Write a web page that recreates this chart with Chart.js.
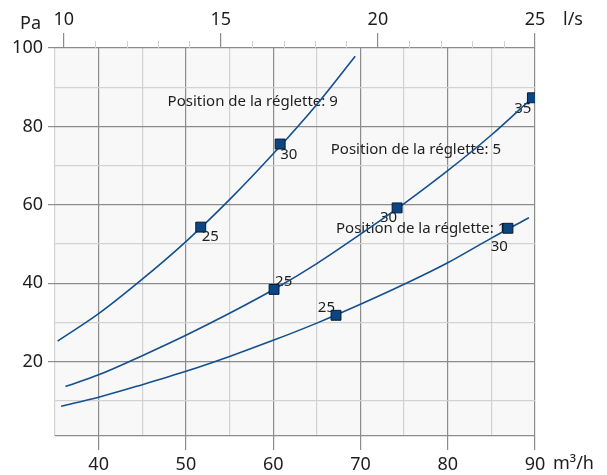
<!DOCTYPE html>
<html><head><meta charset="utf-8">
<script src="https://cdn.jsdelivr.net/npm/chart.js@4.4.1/dist/chart.umd.min.js"></script>
<style>html,body{margin:0;padding:0;background:#fff}#wrap{width:607px;height:475px}</style>
</head><body><div id="wrap"><canvas id="c" width="607" height="475"></canvas></div>
<script>
// ---- Data (flow in m³/h, pressure in Pa) ----
const curve9Flow = [35.3, 40, 45, 50, 55, 60, 65, 69.4];
const curve9Pa   = [25.2, 32.2, 41.0, 50.6, 61.3, 73.0, 85.6, 97.9];
const curve5Flow = [36.2, 40, 45, 50, 55, 60, 65, 70, 75, 80, 85, 89.7];
const curve5Pa   = [13.6, 16.6, 21.5, 26.7, 32.3, 38.3, 45.0, 52.5, 60.3, 68.7, 77.8, 87.3];
const curve1Flow = [35.7, 40, 45, 50, 55, 60, 65, 70, 75, 80, 85, 89.3];
const curve1Pa   = [8.6, 10.9, 14.1, 17.5, 21.3, 25.4, 29.8, 34.6, 39.7, 45.2, 51.5, 56.7];

const marker9Flow = [51.7, 60.8];
const marker9Pa   = [54.3, 75.5];
const marker9Text = ['25', '30'];
const marker5Flow = [60.1, 74.2, 89.7];
const marker5Pa   = [38.4, 59.2, 87.3];
const marker5Text = ['25', '30', '35'];
const marker1Flow = [67.2, 86.9];
const marker1Pa   = [31.8, 54.0];
const marker1Text = ['25', '30'];

const curveNames = ['Position de la réglette: 9', 'Position de la réglette: 5', 'Position de la réglette: 1'];

const xTickValues   = [35, 40, 45, 50, 55, 60, 65, 70, 75, 80, 85, 90];
const xTickLabels   = [40, 50, 60, 70, 80, 90];
const yTickValues   = [1, 10, 20, 30, 40, 50, 60, 70, 80, 90, 100];
const yTickLabels   = [20, 40, 60, 80, 100];
const topTickLabels = [10, 15, 20, 25];
const topMinorTicks = [10, 11, 12, 13, 14, 15, 16, 17, 18, 19, 20, 21, 22, 23, 24, 25];

// ---- Styling / placement (not data) ----
const FONT = '"Noto Sans", sans-serif';
const LINE = '#13508f';
const MFILL = '#0c4584';
const MAJOR = '#8c8c8c';
const MINOR = '#d2d2d2';
const TXT = '#1e1e1e';
// name label anchors (left, middle) in data coords
const namePlace = [[47.9, 86.3], [66.6, 74.0], [67.2, 54.0]];
// marker label offsets [dx, dy, align]
const lblOff9 = [[1, 10, 'left'], [0, 11, 'left']];
const lblOff5 = [[1, -8, 'left'], [0, 10, 'right'], [-1, 11, 'right']];
const lblOff1 = [[-1, -8, 'right'], [0, 18, 'right']];

const pts = (xs, ys) => xs.map((v, i) => ({x: v, y: ys[i]}));

const markerSets = [
  {flow: marker9Flow, pa: marker9Pa, text: marker9Text, off: lblOff9},
  {flow: marker5Flow, pa: marker5Pa, text: marker5Text, off: lblOff5},
  {flow: marker1Flow, pa: marker1Pa, text: marker1Text, off: lblOff1}
];

const markerDS = markerSets.map(m => ({
  data: pts(m.flow, m.pa), showLine: false, pointStyle: 'rect', pointRadius: 7,
  pointBackgroundColor: MFILL, pointBorderColor: '#0a1a30', pointBorderWidth: 1, order: 0
}));
const curveDS = [[curve9Flow, curve9Pa], [curve5Flow, curve5Pa], [curve1Flow, curve1Pa]].map(c => ({
  data: pts(c[0], c[1]), showLine: true, borderColor: LINE, borderWidth: 1.6, pointRadius: 0,
  cubicInterpolationMode: 'monotone', fill: false, order: 1
}));

const deco = {
  id: 'deco',
  beforeDraw(chart) {
    const {ctx, chartArea: a} = chart;
    ctx.save();
    ctx.fillStyle = '#f8f8f8';
    ctx.fillRect(a.left, a.top, a.right - a.left, a.bottom - a.top);
    ctx.restore();
  },
  beforeDatasetsDraw(chart) {
    const {ctx} = chart;
    const xs = chart.scales.x, ys = chart.scales.y;
    ctx.save();
    ctx.fillStyle = TXT;
    ctx.font = '15px ' + FONT;
    ctx.textBaseline = 'middle';
    ctx.textAlign = 'left';
    curveNames.forEach((n, i) => {
      ctx.fillText(n, xs.getPixelForValue(namePlace[i][0]), ys.getPixelForValue(namePlace[i][1]));
    });
    markerSets.forEach((m, di) => {
      const meta = chart.getDatasetMeta(di);
      meta.data.forEach((p, i) => {
        const o = m.off[i];
        ctx.textAlign = o[2];
        ctx.fillText(m.text[i], p.x + o[0], p.y + o[1]);
      });
    });
    ctx.restore();
  },
  afterDraw(chart) {
    const {ctx, chartArea: a} = chart;
    const x2 = chart.scales.x2;
    ctx.save();
    ctx.lineWidth = 1;
    ctx.strokeStyle = MINOR;
    topMinorTicks.forEach(v => {
      if (topTickLabels.includes(v)) return;
      const px = Math.round(x2.getPixelForValue(v)) + 0.5;
      ctx.beginPath(); ctx.moveTo(px, a.top - 7); ctx.lineTo(px, a.top); ctx.stroke();
    });
    ctx.fillStyle = TXT;
    ctx.font = '18px ' + FONT;
    ctx.textBaseline = 'alphabetic';
    ctx.textAlign = 'left';
    ctx.fillText('Pa', 20, 29);
    ctx.fillText('l/s', 563, 25);
    ctx.fillText('m³/h', 553, 469);
    ctx.restore();
  }
};

new Chart(document.getElementById('c'), {
  type: 'scatter',
  data: {datasets: [...markerDS, ...curveDS]},
  options: {
    responsive: false, animation: false, devicePixelRatio: 1,
    layout: {padding: {left: 0, right: 72, top: 0, bottom: 0}},
    plugins: {legend: {display: false}, tooltip: {enabled: false}},
    scales: {
      x: {
        type: 'linear', position: 'bottom', min: 35, max: 90,
        afterBuildTicks: s => { s.ticks = xTickValues.map(v => ({value: v})); },
        afterFit: s => { s.height = 39; },
        border: {display: false},
        grid: {
          color: c => (c.tick && c.tick.value % 10 === 0) ? MAJOR : MINOR,
          tickColor: c => (c.tick && xTickLabels.includes(c.tick.value)) ? MAJOR : 'rgba(0,0,0,0)',
          tickLength: 14, lineWidth: 1.2
        },
        ticks: {
          autoSkip: false, maxRotation: 0, padding: 4, color: TXT, font: {family: FONT, size: 18},
          callback: v => xTickLabels.includes(v) ? String(v) : ''
        }
      },
      x2: {
        type: 'linear', position: 'top', min: 35 / 3.6, max: 25,
        afterBuildTicks: s => { s.ticks = topTickLabels.map(v => ({value: v})); },
        afterFit: s => { s.height = 48; },
        border: {display: false},
        grid: {drawOnChartArea: false, tickLength: 15, tickColor: MAJOR, lineWidth: 1.2},
        ticks: {autoSkip: false, maxRotation: 0, padding: 2, color: TXT, font: {family: FONT, size: 18},
          callback: v => String(v)}
      },
      y: {
        type: 'linear', position: 'left', min: 1, max: 100,
        afterBuildTicks: s => { s.ticks = yTickValues.map(v => ({value: v})); },
        afterFit: s => { s.width = 55; },
        border: {display: false},
        grid: {
          color: c => (c.tick && (c.tick.value % 20 === 0 || c.tick.value === 1)) ? MAJOR : MINOR,
          tickColor: c => (c.tick && yTickLabels.includes(c.tick.value)) ? MAJOR : 'rgba(0,0,0,0)',
          tickLength: 7, lineWidth: 1.2
        },
        ticks: {
          autoSkip: false, padding: 5, color: TXT, font: {family: FONT, size: 18},
          callback: v => yTickLabels.includes(v) ? String(v) : ''
        }
      }
    }
  },
  plugins: [deco]
});
</script>
</body></html>
